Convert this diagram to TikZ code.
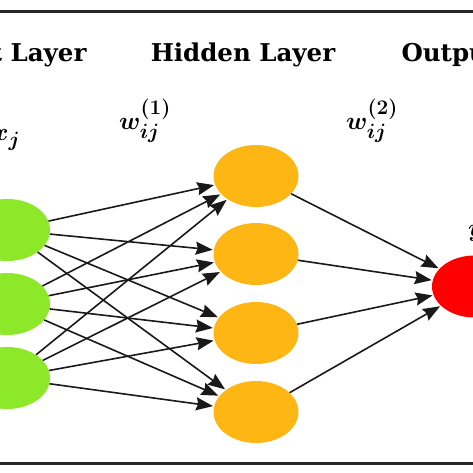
\documentclass[tikz,border=0pt]{standalone}
\usepackage{amsmath,bm}
\usepackage{fontspec}
\setmainfont{DejaVu Serif}
\usetikzlibrary{shapes.geometric,arrows.meta}
\definecolor{ngreen}{RGB}{140,232,40}
\definecolor{norange}{RGB}{253,182,20}
\definecolor{nred}{RGB}{255,0,0}
\begin{document}
\begin{tikzpicture}[x=1pt,y=-1pt,
  neuron/.style={ellipse,minimum width=85pt,minimum height=62pt,inner sep=0pt},
  conn/.style={-{Stealth[length=17pt,width=13pt,inset=2pt]},line width=1.6pt,black!90,shorten >=1pt},
  title/.style={font=\fontsize{24.5}{28}\selectfont\bfseries},
  wlabel/.style={font=\fontsize{30}{34}\selectfont\boldmath,inner sep=0pt}]
\useasboundingbox (0,0) rectangle (473,473);
\begin{scope}
\clip (0,0) rectangle (473,473);
\draw[line width=3pt,black!85] (-5,12) coordinate (tl) -- (478,12) coordinate (tr);
\draw[line width=3pt,black!85] (-5,463) coordinate (bl) -- (478,463) coordinate (br);
% titles
\node[title,anchor=base east] (tin) at (90,62) {Input Layer};
\node[title,anchor=base] (thid) at (243,62) {Hidden Layer};
\node[title,anchor=base west] (tout) at (398,62) {Output Layer};
% labels
\node[wlabel,anchor=base west] (lx) at (-8,141) {$x_j$};
\node[wlabel] (lw1) at (145,121) {$w_{ij}^{(1)}$};
\node[wlabel] (lw2) at (372,121) {$w_{ij}^{(2)}$};
\node[wlabel,anchor=base west] (ly) at (468,236) {$y$};
% neurons
\node[neuron,fill=ngreen] (i1) at (7.5,230) {};
\node[neuron,fill=ngreen] (i2) at (7.5,304) {};
\node[neuron,fill=ngreen] (i3) at (7.5,378) {};
\node[neuron,fill=norange] (h1) at (256,176) {};
\node[neuron,fill=norange] (h2) at (256,254) {};
\node[neuron,fill=norange] (h3) at (256,333) {};
\node[neuron,fill=norange] (h4) at (256,412) {};
\node[neuron,fill=nred] (o) at (474.5,286.5) {};
% connections
\foreach \i in {1,2,3}{
  \foreach \h in {1,2,3,4}{
    \draw[conn] (i\i) -- (h\h);
  }
}
\foreach \h in {1,2,3,4}{
  \draw[conn] (h\h) -- (o);
}
\end{scope}
\end{tikzpicture}
\end{document}
